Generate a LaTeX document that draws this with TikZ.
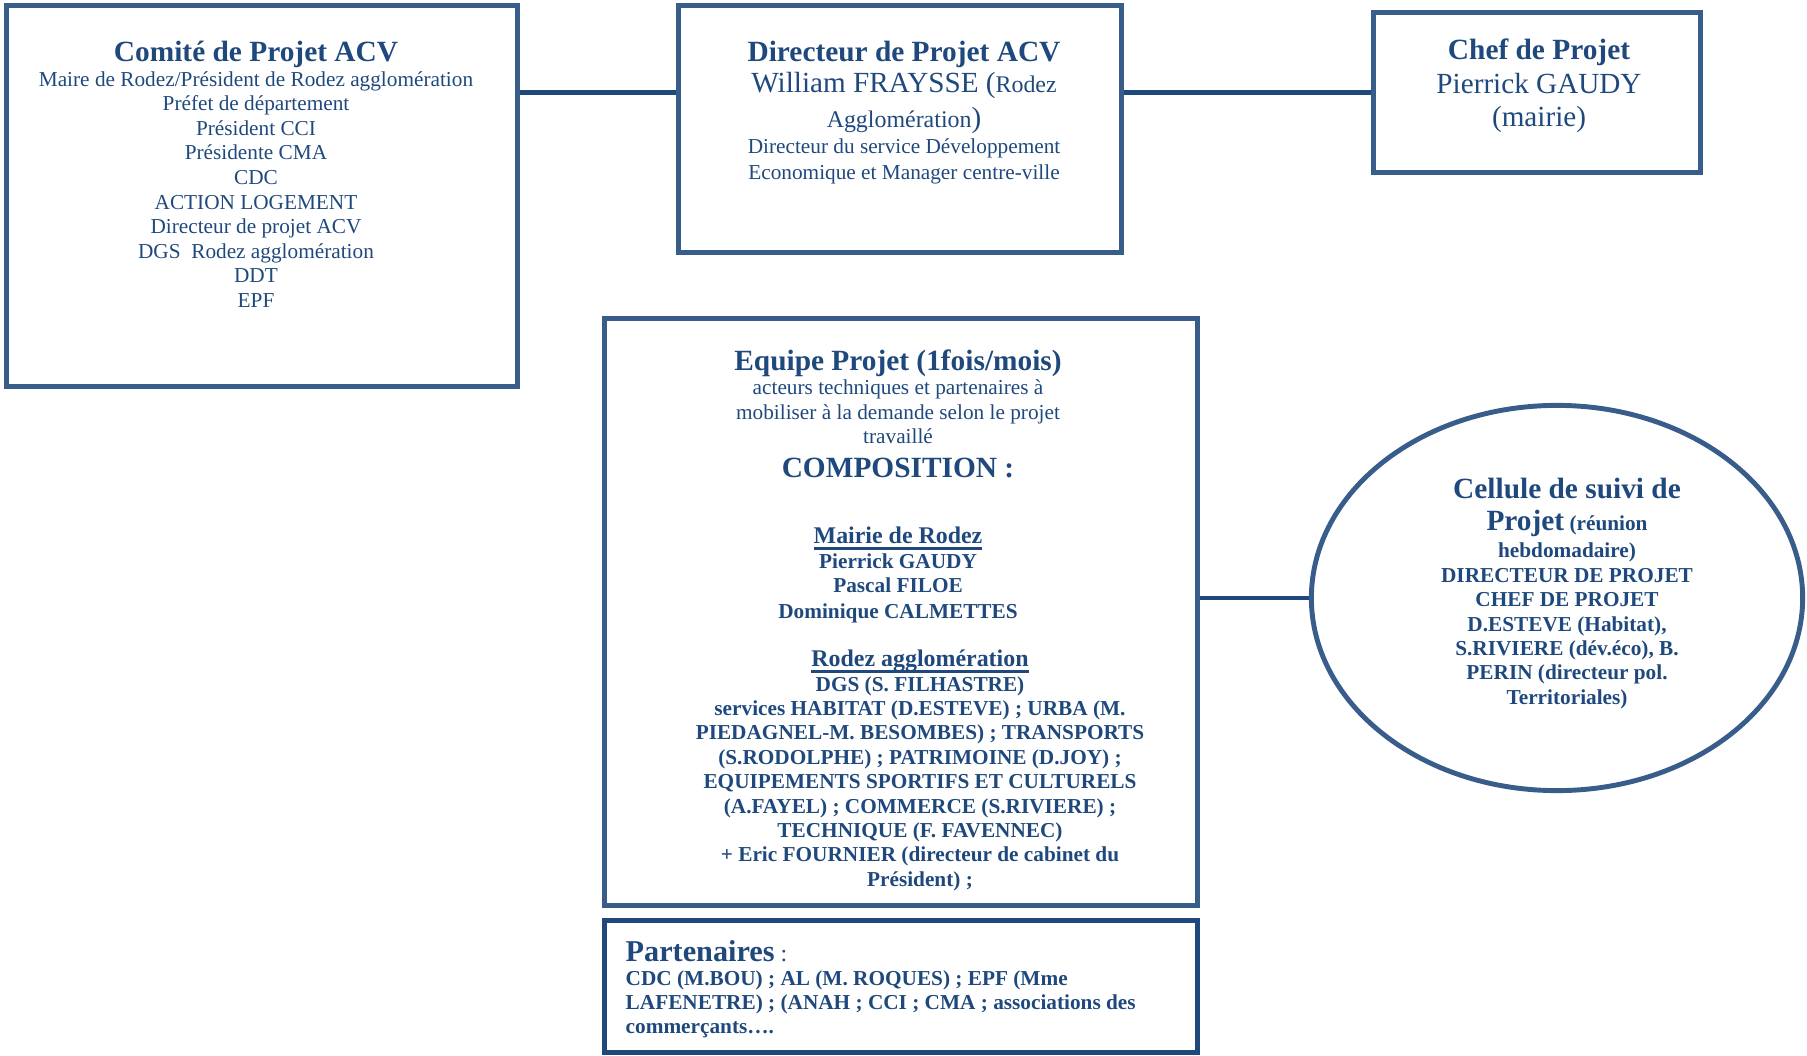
\documentclass[tikz,border=0pt]{standalone}
\usepackage{fontspec}
\setmainfont{Liberation Serif}
\usepackage{tikz}
\usetikzlibrary{positioning,shapes.geometric}

\definecolor{bordbleu}{RGB}{56,93,138}
\definecolor{textebleu}{RGB}{31,73,125}
\newcommand{\grand}{\fontsize{8.35}{9.4}\selectfont}
\newcommand{\moyen}{\fontsize{6.8}{7.8}\selectfont}
\newcommand{\souligne}[1]{\setbox0\hbox{#1}\rlap{\rule[-1.8pt]{\wd0}{0.75pt}}\box0}
\lineskiplimit=-20pt

\begin{document}
\begin{tikzpicture}[x=0.01cm,y=-0.01cm,
  cadre/.style={draw=bordbleu,line width=1.4pt,inner sep=0pt},
  texte/.style={text=textebleu,inner sep=0pt,align=center},
  lien/.style={draw=textebleu,line width=1.35pt}
]
\useasboundingbox (0,0) rectangle (1807,1055);

% top row: comite, directeur, chef
\node[cadre,minimum width=5.10cm,minimum height=3.80cm] (comite) at (262,196) {};
\node[cadre,minimum width=4.42cm,minimum height=2.46cm] (directeur) at (900,129) {};
\node[cadre,minimum width=3.27cm,minimum height=1.60cm] (chef) at (1537,92.5) {};

% equipe projet and partenaires
\node[cadre,minimum width=5.93cm,minimum height=5.87cm] (equipe) at (901,612) {};
\node[cadre,draw=textebleu,minimum width=5.93cm,minimum height=1.32cm] (partenaires) at (901,986.5) {};

% cellule de suivi
\node[cadre,ellipse,minimum width=4.91cm,minimum height=3.85cm] (cellule) at (1557,598) {};

% texts
\node[texte,anchor=north,font=\fontsize{6.05}{6.99}\selectfont] (tcomite) at (256,40.5)
  {{\grand\bfseries Comité de Projet ACV}\\Maire de Rodez/Président de Rodez agglomération\\Préfet de département\\Président CCI\\Présidente CMA\\CDC\\ACTION LOGEMENT\\Directeur de projet ACV\\DGS~ Rodez agglomération\\DDT\\EPF};
\node[texte,anchor=north,font=\fontsize{6.05}{7.4}\selectfont] (tdirecteur) at (904,40.7)
  {{\grand\bfseries Directeur de Projet ACV}\\[1.42pt]{\fontsize{8.3}{9}\selectfont William FRAYSSE (}{\moyen Rodez}\\[2.56pt]{\moyen Agglomération}{\fontsize{8.3}{9}\selectfont)}\\Directeur du service Développement\\Economique et Manager centre-ville};
\node[texte,anchor=north,font=\fontsize{8.3}{9.53}\selectfont] (tchef) at (1539,38.5)
  {{\grand\bfseries Chef de Projet}\\Pierrick GAUDY\\(mairie)};
\node[texte,anchor=north,font=\fontsize{6.05}{6.97}\selectfont] (tequipe) at (898,348.7)
  {{\grand\bfseries Equipe Projet (1fois/mois)}\\acteurs techniques et partenaires à\\mobiliser à la demande selon le projet\\travaillé\\[2.7pt]{\grand\bfseries COMPOSITION :}\\[11.8pt]{\moyen\bfseries\souligne{Mairie de Rodez}}\\\textbf{Pierrick GAUDY}\\\textbf{Pascal FILOE}\\[0.5pt]\textbf{Dominique CALMETTES}};
\node[texte,anchor=north,font=\fontsize{6.05}{6.94}\selectfont\bfseries] (tagglo) at (920,649.3)
  {{\moyen\souligne{Rodez agglomération}}\\DGS (S. FILHASTRE)\\services HABITAT (D.ESTEVE) ; URBA (M.\\PIEDAGNEL-M. BESOMBES) ; TRANSPORTS\\(S.RODOLPHE) ; PATRIMOINE (D.JOY) ;\\EQUIPEMENTS SPORTIFS ET CULTURELS\\(A.FAYEL) ; COMMERCE (S.RIVIERE) ;\\TECHNIQUE (F. FAVENNEC)\\+ Eric FOURNIER (directeur de cabinet du\\Président) ;};
\node[texte,anchor=north west,align=left,font=\fontsize{6.05}{6.9}\selectfont\bfseries] (tpartenaires) at (625,939.5)
  {{\fontsize{8.6}{9}\selectfont Partenaires}{\mdseries\moyen\ :}\\CDC (M.BOU) ; AL (M. ROQUES) ; EPF (Mme\\LAFENETRE) ; (ANAH ; CCI ; CMA ; associations des\\commerçants….};
\node[texte,anchor=north,font=\fontsize{6.05}{6.94}\selectfont\bfseries] (tcellule) at (1567,477)
  {{\grand Cellule de suivi de}\\[2.4pt]{\grand Projet} (réunion\\[0.7pt]hebdomadaire)\\DIRECTEUR DE PROJET\\CHEF DE PROJET\\D.ESTEVE (Habitat),\\S.RIVIERE (dév.éco), B.\\PERIN (directeur pol.\\Territoriales)};

% connectors
\draw[lien] (comite.east |- chef.west) -- (directeur.west |- chef.west);
\draw[lien] (directeur.east |- chef.west) -- (chef.west);
\draw[lien] (equipe.east |- cellule.west) -- (cellule.west);
\end{tikzpicture}
\end{document}
